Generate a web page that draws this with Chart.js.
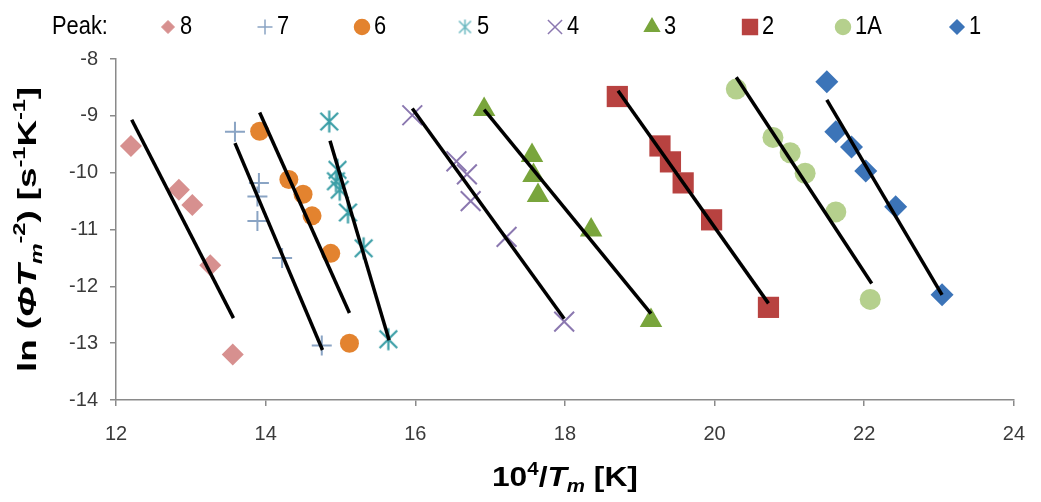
<!DOCTYPE html>
<html>
<head>
<meta charset="utf-8">
<script src="https://cdn.jsdelivr.net/npm/chart.js@4/dist/chart.umd.min.js"></script>
<style>
    html, body { margin: 0; padding: 0; background: #fff; }
    #wrap { width: 1041px; height: 502px; position: relative; }
</style>
</head>
<body>
<div id="wrap"><canvas id="arrhenius"></canvas></div>
<script>
// peaks, in legend order
const peaks = ['8', '7', '6', '5', '4', '3', '2', '1A', '1'];

// measured points, 10^4/Tm and ln(phi Tm^-2), one pair of arrays per peak
const peak8X = [12.2, 12.84, 13.02, 13.26, 13.56];
const peak8Y = [-9.53, -10.3, -10.57, -11.63, -13.2];
const peak7X = [13.59, 13.91, 13.89, 13.89, 14.22, 14.75];
const peak7Y = [-9.28, -10.18, -10.42, -10.85, -11.5, -13.04];
const peak6X = [13.92, 14.31, 14.5, 14.62, 14.87, 15.12];
const peak6Y = [-9.27, -10.12, -10.38, -10.76, -11.42, -13.0];
const peak5X = [14.85, 14.96, 14.94, 14.99, 15.1, 15.31, 15.64];
const peak5Y = [-9.1, -9.95, -10.15, -10.3, -10.7, -11.33, -12.93];
const peak4X = [15.96, 16.55, 16.69, 16.74, 17.22, 17.99];
const peak4Y = [-8.99, -9.8, -10.03, -10.5, -11.13, -12.62];
const peak3X = [16.92, 17.56, 17.58, 17.64, 18.35, 19.15];
const peak3Y = [-8.89, -9.7, -10.05, -10.4, -11.01, -12.6];
const peak2X = [18.7, 19.27, 19.41, 19.58, 19.96, 20.72];
const peak2Y = [-8.66, -9.53, -9.81, -10.18, -10.83, -12.37];
const peak1AX = [20.29, 20.78, 21.01, 21.21, 21.62, 22.08];
const peak1AY = [-8.53, -9.38, -9.65, -10.01, -10.69, -12.23];
const peak1X = [21.5, 21.62, 21.83, 22.02, 22.42, 23.04];
const peak1Y = [-8.4, -9.28, -9.55, -9.97, -10.6, -12.15];

// fitted lines, start and end point per peak (same order as peaks)
const fitStartX = [12.21, 13.59, 13.92, 14.86, 15.96, 16.92, 18.71, 20.29, 21.5];
const fitStartY = [-9.07, -9.48, -8.94, -9.44, -8.87, -8.89, -8.56, -8.32, -8.72];
const fitEndX = [13.57, 14.76, 15.12, 15.65, 17.99, 19.15, 20.72, 22.1, 23.04];
const fitEndY = [-12.56, -13.12, -12.47, -12.95, -12.57, -12.48, -12.3, -11.95, -12.15];

// axis ticks
const xTicks = [12, 14, 16, 18, 20, 22, 24];
const yTicks = [-14, -13, -12, -11, -10, -9, -8];

const seriesX = [peak8X, peak7X, peak6X, peak5X, peak4X, peak3X, peak2X, peak1AX, peak1X];
const seriesY = [peak8Y, peak7Y, peak6Y, peak5Y, peak4Y, peak3Y, peak2Y, peak1AY, peak1Y];

// Excel style asterisk: an X with a vertical bar through it
function asterisk(r, color, lw) {
    const c = document.createElement('canvas');
    const n = Math.ceil(2 * r + lw + 2);
    c.width = n; c.height = n;
    const g = c.getContext('2d');
    const m = n / 2, d = r * 0.8;
    g.strokeStyle = color;
    g.lineWidth = lw;
    g.beginPath();
    g.moveTo(m, m - r); g.lineTo(m, m + r);
    g.moveTo(m - d, m - d); g.lineTo(m + d, m + d);
    g.moveTo(m + d, m - d); g.lineTo(m - d, m + d);
    g.stroke();
    return c;
}

// marker look per peak
const styles = [
    { color: '#d7908f', shape: 'rectRot', r: 11, lr: 6.5 },
    { color: '#8aa4c4', shape: 'cross', r: 10, lr: 7.5, stroke: 2 },
    { color: '#e3832f', shape: 'circle', r: 9.5, lr: 7.5 },
    { color: '#3a9ea6', shape: asterisk(11, '#3a9ea6', 2.2), legendShape: asterisk(7.5, '#6ab8c0', 1.5), r: 11, lr: 8 },
    { color: '#8b78b0', shape: 'crossRot', r: 14, lr: 10, stroke: 2 },
    { color: '#79a53c', shape: 'triangle', r: 13, lr: 8.5 },
    { color: '#b84240', shape: 'rect', r: 15, lr: 10.5 },
    { color: '#b5d08d', shape: 'circle', r: 10.5, lr: 7.5 },
    { color: '#3c74b8', shape: 'rectRot', r: 11.5, lr: 7 }
];

const toPoints = (xs, ys) => xs.map((x, i) => ({ x: x, y: ys[i] }));

const datasets = [];
peaks.forEach((p, i) => {
    const s = styles[i];
    datasets.push({
        label: p,
        data: toPoints(seriesX[i], seriesY[i]),
        pointStyle: s.shape,
        pointRadius: s.r,
        pointHoverRadius: s.r,
        backgroundColor: s.color,
        borderColor: s.color,
        pointBorderWidth: s.stroke || 0,
        showLine: false,
        order: 1
    });
});
peaks.forEach((p, i) => {
    datasets.push({
        label: 'fit ' + p,
        data: [{ x: fitStartX[i], y: fitStartY[i] }, { x: fitEndX[i], y: fitEndY[i] }],
        showLine: true,
        borderColor: '#000',
        borderWidth: 3.5,
        pointRadius: 0,
        fill: false,
        order: 0
    });
});

const tickFont = { family: "'Liberation Sans', Arial, sans-serif", size: 20 };
const axisGrey = '#8a8a8a';

function drawRich(ctx, runs, width) {
    let w = 0;
    runs.forEach(r => { ctx.font = r.font; r.w = ctx.measureText(r.t).width; w += r.w; });
    ctx.scale(width / w, 1);
    let x = -w / 2;
    ctx.textBaseline = 'alphabetic';
    ctx.textAlign = 'left';
    runs.forEach(r => { ctx.font = r.font; ctx.fillText(r.t, x, r.dy || 0); x += r.w; });
}

const decorations = {
    id: 'decorations',
    afterDraw(chart) {
        const ctx = chart.ctx;
        const B = "bold 28px 'Liberation Sans', Arial, sans-serif";
        const BI = "italic bold 28px 'Liberation Sans', Arial, sans-serif";
        const S = "bold 18px 'Liberation Sans', Arial, sans-serif";
        const SI = "italic bold 18px 'Liberation Sans', Arial, sans-serif";

        // x title: 10^4/Tm [K]
        ctx.save();
        ctx.fillStyle = '#000';
        ctx.translate((chart.chartArea.left + chart.chartArea.right) / 2, 486);
        drawRich(ctx, [
            { t: '10', font: B }, { t: '4', font: S, dy: -11 }, { t: '/', font: B },
            { t: 'T', font: BI }, { t: 'm', font: SI, dy: 6 }, { t: ' [K]', font: B }
        ], 146);
        ctx.restore();

        // y title: ln (Phi Tm^-2) [s^-1 K^-1]
        ctx.save();
        ctx.fillStyle = '#000';
        ctx.translate(36, (chart.chartArea.top + chart.chartArea.bottom) / 2);
        ctx.rotate(-Math.PI / 2);
        const B2 = "bold 25px 'Liberation Sans', Arial, sans-serif";
        const BI2 = "italic bold 25px 'Liberation Sans', Arial, sans-serif";
        const S2 = "bold 16px 'Liberation Sans', Arial, sans-serif";
        const SI2 = "italic bold 16px 'Liberation Sans', Arial, sans-serif";
        drawRich(ctx, [
            { t: 'ln (', font: B2 }, { t: 'ΦT', font: BI2 }, { t: 'm', font: SI2, dy: 6 },
            { t: '-2', font: S2, dy: -11 }, { t: ') [s', font: B2 }, { t: '-1', font: S2, dy: -11 },
            { t: 'K', font: B2 }, { t: '-1', font: S2, dy: -11 }, { t: ']', font: B2 }
        ], 285);
        ctx.restore();

        // legend row
        const legendY = 27;
        const markerX = [168, 265, 362, 465, 555, 652, 750, 843, 957];
        ctx.save();
        ctx.font = "23px 'Liberation Sans', Arial, sans-serif";
        ctx.textBaseline = 'middle';
        ctx.textAlign = 'left';
        ctx.fillStyle = '#000';
        ctx.save();
        ctx.translate(52, legendY);
        ctx.scale(0.95, 1.12);
        ctx.fillText('Peak:', 0, 0);
        ctx.restore();
        peaks.forEach((p, i) => {
            const s = styles[i];
            ctx.fillStyle = s.color;
            ctx.strokeStyle = s.color;
            ctx.lineWidth = s.stroke ? 1.5 : 0;
            Chart.helpers.drawPoint(ctx, { pointStyle: s.legendShape || s.shape, radius: s.lr, borderWidth: ctx.lineWidth, rotation: 0 }, markerX[i], legendY);
            ctx.fillStyle = '#000';
            ctx.save();
            ctx.translate(markerX[i] + 12, legendY);
            ctx.scale(0.95, 1.12);
            ctx.fillText(p, 0, 0);
            ctx.restore();
        });
        ctx.restore();
    }
};

new Chart(document.getElementById('arrhenius'), {
    type: 'scatter',
    data: { datasets: datasets },
    options: {
        responsive: true,
        maintainAspectRatio: false,
        animation: false,
        layout: { padding: { top: 59, right: 23, left: 0, bottom: 0 } },
        plugins: {
            legend: { display: false },
            tooltip: { enabled: false }
        },
        scales: {
            x: {
                type: 'linear',
                min: xTicks[0],
                max: xTicks[xTicks.length - 1],
                afterBuildTicks: scale => { scale.ticks = xTicks.map(v => ({ value: v })); },
                afterFit: scale => { scale.height = 102; },
                ticks: { color: '#3a3a3a', font: tickFont, padding: 16, maxRotation: 0 },
                grid: { display: true, drawOnChartArea: false, drawTicks: true, tickLength: 6, color: axisGrey, lineWidth: 1.5 },
                border: { display: true, color: axisGrey, width: 1.5 }
            },
            y: {
                type: 'linear',
                min: yTicks[0],
                max: yTicks[yTicks.length - 1],
                afterBuildTicks: scale => { scale.ticks = yTicks.map(v => ({ value: v })); },
                afterFit: scale => { scale.width = 116; },
                ticks: { color: '#3a3a3a', font: tickFont, padding: 12 },
                grid: { display: true, drawOnChartArea: false, drawTicks: true, tickLength: 6, color: axisGrey, lineWidth: 1.5 },
                border: { display: true, color: axisGrey, width: 1.5 }
            }
        }
    },
    plugins: [decorations]
});
</script>
</body>
</html>
